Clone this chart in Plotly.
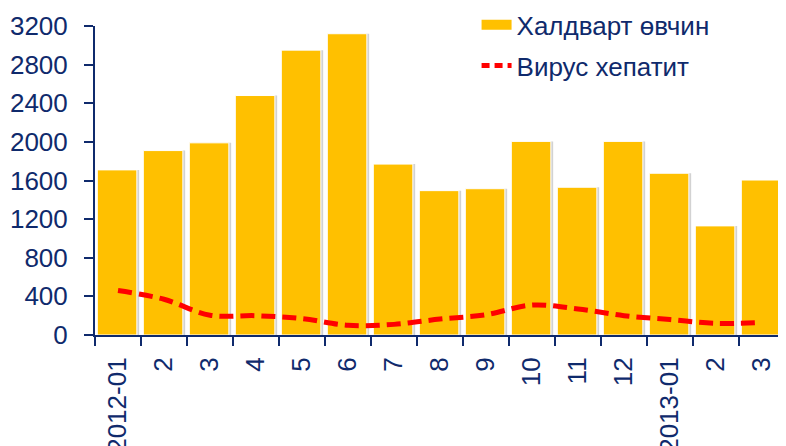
import plotly.graph_objects as go

# monthly data, 2012-01 .. 2013-03
months = ["2012-01", "2012-02", "2012-03", "2012-04", "2012-05", "2012-06",
          "2012-07", "2012-08", "2012-09", "2012-10", "2012-11", "2012-12",
          "2013-01", "2013-02", "2013-03"]
tick_labels = ["2012-01", "2", "3", "4", "5", "6", "7", "8", "9", "10",
               "11", "12", "2013-01", "2", "3"]
infectious = [1710, 1910, 1990, 2480, 2950, 3120, 1770, 1495, 1515, 2005,
              1530, 2005, 1675, 1130, 1605]
hepatitis = [460, 370, 205, 200, 170, 100, 110, 165, 210, 310,
             270, 200, 160, 120, 130]

navy = "#0F2A6C"
fnt = dict(family="Liberation Sans, Arial, sans-serif", size=26, color=navy)

fig = go.Figure()

# soft grey shadow behind the bars
fig.add_trace(go.Bar(x=months, y=infectious, width=0.86, offset=-0.40,
                     marker=dict(color="#D2D2D2", line=dict(width=0)),
                     showlegend=False, hoverinfo="skip"))

fig.add_trace(go.Bar(x=months, y=infectious, width=0.86, offset=-0.45,
                     marker=dict(color="#FFC000", line=dict(color="white", width=1)),
                     showlegend=False, name="Халдварт өвчин"))

fig.add_trace(go.Scatter(x=months, y=hepatitis, mode="lines", name="Вирус хепатит",
                         line=dict(color="#FF0000", width=5, dash="14px,7px", shape="spline"),
                         showlegend=False))

# legend entries (wide swatches like the original)
fig.add_trace(go.Scatter(x=[None], y=[None], mode="lines", name="Халдварт өвчин",
                         legendgroup="a", line=dict(color="#FFC000", width=12)))
fig.add_trace(go.Scatter(x=[None], y=[None], mode="lines", name="Вирус хепатит",
                         legendgroup="b", line=dict(color="#FF0000", width=5, dash="8px,5px")))

fig.update_layout(
    width=786, height=446,
    margin=dict(l=87, r=9, t=18, b=119, autoexpand=False),
    barmode="overlay",
    plot_bgcolor="white", paper_bgcolor="white",
    font=fnt,
    legend=dict(x=0.553, y=1.08, xanchor="left", yanchor="top",
                bgcolor="rgba(0,0,0,0)", font=fnt, tracegroupgap=4),
)

fig.update_xaxes(type="category", categoryorder="array", categoryarray=months,
                 tickmode="array", tickvals=months, ticktext=tick_labels,
                 tickson="boundaries", ticks="outside", ticklen=9, tickwidth=2,
                 tickcolor=navy, showline=True, linecolor=navy, linewidth=2,
                 tickangle=-90, showgrid=False, automargin=False,
                 ticklabelstandoff=10, tickfont=fnt, range=[-0.5, 14.5])
fig.update_yaxes(range=[0, 3200], dtick=400, ticks="outside", ticklen=9, tickwidth=2,
                 tickcolor=navy, showline=True, linecolor=navy, linewidth=2,
                 showgrid=False, zeroline=False, automargin=False,
                 ticklabelstandoff=11, tickfont=fnt)

fig.write_html("out.html")
